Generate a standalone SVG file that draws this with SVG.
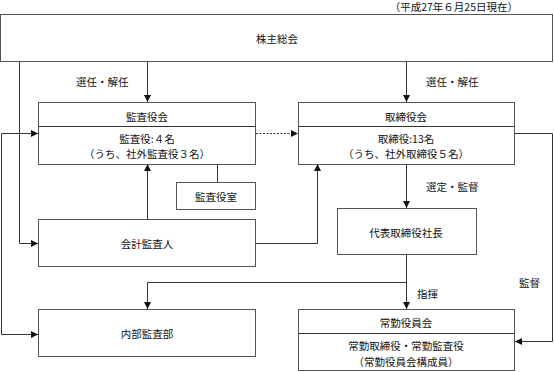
<svg xmlns="http://www.w3.org/2000/svg" width="554" height="372" viewBox="0 0 554 372">
<defs>
<style>
text{font-family:"Noto Sans CJK JP","Noto Sans",sans-serif;font-size:10.5px;fill:#111;text-anchor:middle;dominant-baseline:central}
.box{fill:#fff;stroke:#555;stroke-width:1}
.div{stroke:#333;stroke-width:1}
.ln{fill:none;stroke:#333;stroke-width:1}
.arr{marker-end:url(#ah)}
.lbl{text-anchor:start}
</style>
<marker id="ah" viewBox="0 0 8 8" refX="8" refY="4" markerWidth="7" markerHeight="7" markerUnits="userSpaceOnUse" orient="auto-start-reverse">
<path d="M0,0 L8,4 L0,8 Z" fill="#111"/>
</marker>
</defs>
<rect width="554" height="372" fill="#fff"/>
<text x="518" y="6" style="text-anchor:end">（平成27年６月25日現在）</text>

<g id="connectors">
<path class="ln arr" d="M147.5,61 V102"/>
<path class="ln arr" d="M406.5,61 V102"/>
<path class="ln arr" d="M19.5,61 V243.5 H38"/>
<path class="ln" d="M38,133.5 H1.5 V334.5 H38" marker-start="url(#ah)" marker-end="url(#ah)"/>
<path class="ln arr" d="M256,133.5 H298" stroke-dasharray="2,1.5"/>
<path class="ln arr" d="M515,133.5 H552.5 V341.5 H515"/>
<path class="ln" d="M217.5,164 V182"/>
<path class="ln arr" d="M147.5,219 V164"/>
<path class="ln arr" d="M256,243.5 H317.5 V164"/>
<path class="ln arr" d="M406.5,164 V208"/>
<path class="ln arr" d="M406.5,254 V309"/>
<path class="ln arr" d="M406.5,282.5 H147.5 V309"/>
<text class="lbl" x="76" y="81">選任・解任</text>
<text class="lbl" x="426" y="81">選任・解任</text>
<text class="lbl" x="426" y="186">選定・監督</text>
<text class="lbl" x="417" y="293">指揮</text>
<text class="lbl" x="519" y="282">監督</text>
</g>

<g id="shareholders">
<rect class="box" x="0.5" y="14.5" width="552" height="47"/>
<text x="277" y="38">株主総会</text>
</g>

<g id="auditboard">
<rect class="box" x="38.5" y="102.5" width="217" height="62"/>
<line class="div" x1="38.5" y1="126.5" x2="255.5" y2="126.5"/>
<text x="147" y="116">監査役会</text>
<text x="147" y="138">監査役:４名</text>
<text x="147" y="153">（うち、社外監査役３名）</text>
</g>

<g id="board">
<rect class="box" x="298.5" y="102.5" width="216" height="62"/>
<line class="div" x1="298.5" y1="126.5" x2="514.5" y2="126.5"/>
<text x="406" y="116">取締役会</text>
<text x="406" y="138">取締役:13名</text>
<text x="406" y="153">（うち、社外取締役５名）</text>
</g>

<g id="auditoffice">
<rect class="box" x="176.5" y="182.5" width="79" height="27"/>
<text x="216" y="196">監査役室</text>
</g>

<g id="accountant">
<rect class="box" x="38.5" y="219.5" width="217" height="47"/>
<text x="147" y="243">会計監査人</text>
</g>

<g id="president">
<rect class="box" x="337.5" y="208.5" width="139" height="46"/>
<text x="406" y="232">代表取締役社長</text>
</g>

<g id="internalaudit">
<rect class="box" x="38.5" y="309.5" width="217" height="47"/>
<text x="147" y="333">内部監査部</text>
</g>

<g id="executive">
<rect class="box" x="298.5" y="309.5" width="216" height="61"/>
<line class="div" x1="298.5" y1="333.5" x2="514.5" y2="333.5"/>
<text x="406" y="322">常勤役員会</text>
<text x="406" y="345">常勤取締役・常勤監査役</text>
<text x="406" y="361">（常勤役員会構成員）</text>
</g>
</svg>
